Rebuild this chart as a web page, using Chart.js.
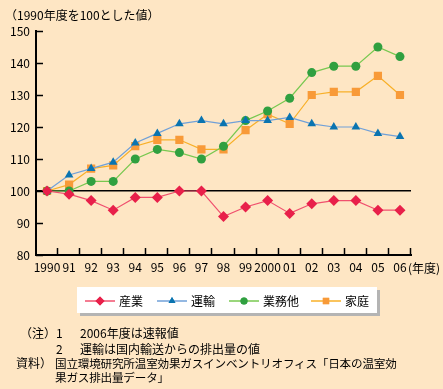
<!DOCTYPE html>
<html><head><meta charset="utf-8">
<script src="https://cdn.jsdelivr.net/npm/chart.js@4/dist/chart.umd.min.js"></script>
<style>
html,body{margin:0;padding:0;background:#FEE6C4;}
#wrap{position:relative;width:443px;height:389px;overflow:hidden;font-family:"Noto Sans CJK JP","Noto Sans",sans-serif;color:#000;}
canvas{position:absolute;left:0;top:0;}
.t{position:absolute;font-size:12px;line-height:14px;white-space:nowrap;}
</style></head>
<body><div id="wrap">
<canvas id="c" width="443" height="389"></canvas>
<div class="t" style="left:5px;top:8px;">（1990年度を100とした値）</div>
<div class="t" style="left:408px;top:261px;">(年度)</div>
<div class="t" style="left:20px;top:326px;">（注）</div>
<div class="t" style="left:56px;top:326px;">1</div>
<div class="t" style="left:80px;top:326px;">2006年度は速報値</div>
<div class="t" style="left:56px;top:342px;">2</div>
<div class="t" style="left:80px;top:342px;">運輸は国内輸送からの排出量の値</div>
<div class="t" style="left:16px;top:356px;">資料）</div>
<div class="t" style="left:55px;top:356px;font-size:11.6px;letter-spacing:-0.2px;">国立環境研究所温室効果ガスインベントリオフィス「日本の温室効</div>
<div class="t" style="left:55px;top:370px;font-size:11.6px;letter-spacing:-0.2px;">果ガス排出量データ」</div>
</div>
<script>
const years = ["1990","91","92","93","94","95","96","97","98","99","2000","01","02","03","04","05","06"];
const seriesNames = ["産業","運輸","業務他","家庭"];
const sangyo  = [100,99,97,94,98,98,100,100,92,95,97,93,96,97,97,94,94];
const unyu    = [100,105,107,109,115,118,121,122,121,122,122,123,121,120,120,118,117];
const gyomu   = [100,100,103,103,110,113,112,110,114,122,125,129,137,139,139,145,142];
const katei   = [100,102,107,108,114,116,116,113,113,119,124,121,130,131,131,136,130];
const yTicks  = [80,90,100,110,120,130,140,150];

const lineColors = ["#F0506E","#70A0D8","#78C850","#F8B028"];
const markColors = ["#E8204A","#0A74B0","#30A040","#F89A38"];
const styles = ["rectRot","triangle","circle","rect"];
const radii = [5.5,5,4.5,5.8];
const values = [sangyo,unyu,gyomu,katei];

const datasets = values.map((v,i)=>({
  label: seriesNames[i], data: v,
  borderColor: lineColors[i], borderWidth: 1.2,
  pointStyle: styles[i], pointRadius: radii[i], pointHoverRadius: radii[i],
  pointBackgroundColor: markColors[i], pointBorderColor: markColors[i], pointBorderWidth: 0,
  tension: 0, fill: false
}));

const deco = {
  id:'deco',
  afterDraw(chart){
    const ctx = chart.ctx, x = chart.scales.x, y = chart.scales.y, a = chart.chartArea;
    ctx.save();
    ctx.strokeStyle = '#000'; ctx.lineWidth = 1.5;
    yTicks.forEach(t=>{
      const py = Math.round(y.getPixelForValue(t))+0.5;
      ctx.beginPath(); ctx.moveTo(a.left, py); ctx.lineTo(a.left+7, py); ctx.stroke();
    });
    const w = (a.right - a.left)/years.length;
    for(let i=1;i<=years.length;i++){
      const px = Math.round(a.left + i*w)-0.5;
      ctx.beginPath(); ctx.moveTo(px, a.bottom); ctx.lineTo(px, a.bottom-7); ctx.stroke();
    }
    const bx=77, by=287, bw=300, bh=26;
    ctx.fillStyle='#B4B4B4'; ctx.fillRect(bx+3,by+3,bw,bh);
    ctx.fillStyle='#FFFFFF'; ctx.fillRect(bx,by,bw,bh);
    const items=[85,157,229,311];
    ctx.font='12px "Noto Sans CJK JP"'; ctx.textBaseline='middle';
    items.forEach((lx,i)=>{
      const cy = by+14;
      ctx.strokeStyle=lineColors[i]; ctx.lineWidth=1.5;
      ctx.beginPath(); ctx.moveTo(lx,cy); ctx.lineTo(lx+30,cy); ctx.stroke();
      ctx.fillStyle=markColors[i];
      Chart.helpers.drawPoint(ctx,{pointStyle:styles[i],radius:[4.5,4,3.5,4.5][i],rotation:0,borderWidth:0},lx+15,cy);
      ctx.fill();
      ctx.fillStyle='#000';
      ctx.fillText(seriesNames[i], lx+34, cy);
    });
    ctx.restore();
  }
};

new Chart(document.getElementById('c'),{
  type:'line',
  data:{labels:years, datasets},
  options:{
    responsive:false, animation:false, devicePixelRatio:1,
    layout:{padding:{left:0,right:32,top:31,bottom:0}},
    plugins:{legend:{display:false},tooltip:{enabled:false},title:{display:false}},
    scales:{
      x:{
        offset:true,
        grid:{display:false, drawTicks:false},
        border:{display:true,color:'#000',width:2},
        ticks:{color:'#000',font:{family:'"Noto Sans CJK JP"',size:12},padding:5,maxRotation:0,autoSkip:false},
        afterFit(s){ s.height = 134; }
      },
      y:{
        min:80,max:150,
        afterBuildTicks(s){ s.ticks = yTicks.map(v=>({value:v})); },
        grid:{drawTicks:false, color:(c)=> (c.tick && c.tick.value===100) ? '#000' : 'rgba(0,0,0,0)', lineWidth:1.5},
        border:{display:true,color:'#000',width:2},
        ticks:{color:'#000',font:{family:'"Noto Sans CJK JP"',size:12},padding:6},
        afterFit(s){ s.width = 36; }
      }
    }
  },
  plugins:[deco]
});
</script>
</body></html>
